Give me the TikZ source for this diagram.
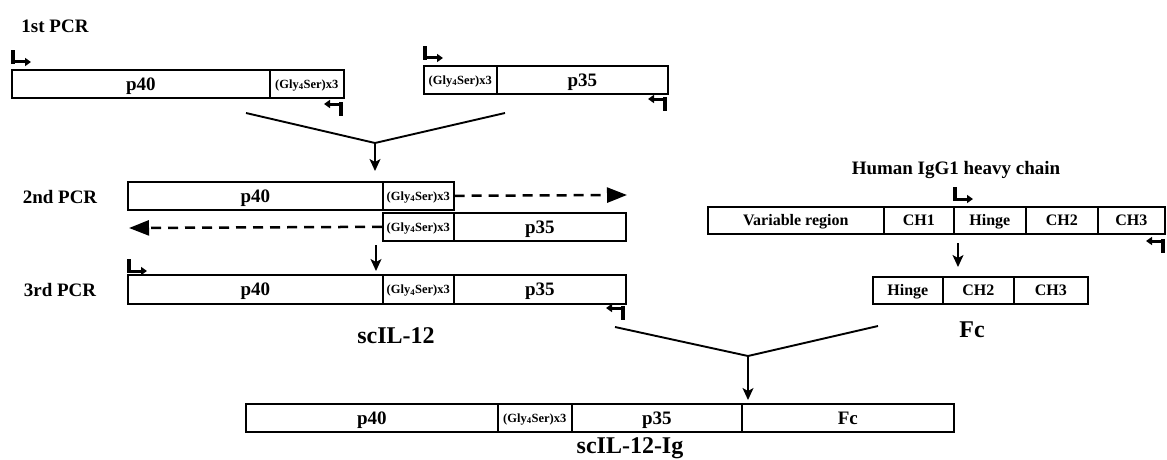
\documentclass[tikz,border=0pt]{standalone}
\usepackage{fontspec}
\setmainfont{Liberation Serif}
\usetikzlibrary{arrows.meta}
\begin{document}
\begin{tikzpicture}[x=1pt,y=-1pt,
  seg/.style={draw, line width=1.6pt, anchor=north west, inner sep=0pt, minimum height=28pt, text depth=0pt, font=\bfseries\fontsize{19}{19}\selectfont},
  gly/.style={seg, font=\bfseries\fontsize{12.5}{13}\selectfont},
  hc/.style={seg, minimum height=27pt, font=\bfseries\fontsize{16}{16}\selectfont},
  lab/.style={font=\bfseries\fontsize{19}{19}\selectfont},
  biglab/.style={font=\bfseries\fontsize{24}{24}\selectfont},
  merge/.style={line width=1.9pt},
  down/.style={line width=1.4pt, -{Stealth[length=12pt,width=11pt,inset=3pt]}},
  dasharrow/.style={line width=2.5pt, dash pattern=on 10pt off 7pt, -{Triangle[length=20pt,width=15pt]}},
  fprim/.pic={\draw[line width=4pt] (0,2) -- (0,-12);
              \draw[line width=3pt,-{Triangle[length=6pt,width=8pt]}] (-2,0) -- (18,0);},
  rprim/.pic={\draw[line width=4pt] (0,-2) -- (0,12);
              \draw[line width=3pt,-{Triangle[length=6pt,width=8pt]}] (2,0) -- (-17,0);}
]
\useasboundingbox[fill=white] (0,0) rectangle (1167,460);
\newcommand{\GS}{(Gly\textsubscript{4}Ser)x3}

% labels
\node[lab] (l1) at (55,26) {1st PCR};
\node[lab] (l2) at (60,197) {2nd PCR};
\node[lab] (l3) at (60,290) {3rd PCR};

% row 1
\node[seg, minimum width=258pt] (a40) at (11,69) {p40};
\node[gly, minimum width=74pt] (agly) at (269,69) {\GS};
\node[gly, minimum width=73pt] (bgly) at (423,65) {\GS};
\node[seg, minimum width=171pt] (b35) at (496,65) {p35};
\pic at (13,62) {fprim};
\pic at (341,104) {rprim};
\pic at (425,58) {fprim};
\pic at (665,99) {rprim};

% merge 1
\coordinate (m1l) at (246,113);
\coordinate (m1v) at (375,143);
\coordinate (m1r) at (505,113);
\draw[merge] (m1l) -- (m1v) -- (m1r);

% row 2
\node[seg, minimum width=255pt] (c40) at (127,181) {p40};
\node[gly, minimum width=71pt] (cgly) at (382,181) {\GS};
\node[gly, minimum width=71pt] (dgly) at (382,212) {\GS};
\node[seg, minimum width=172pt] (d35) at (453,212) {p35};
\draw[down, shorten >=10pt] (m1v) -- (m1v |- c40.north);
\coordinate (dr) at (627,195);
\coordinate (dl) at (129,228);
\draw[dasharrow] (cgly.east) -- (dr);
\draw[dasharrow] (dgly.west) -- (dl);

% row 3
\node[seg, minimum width=255pt, minimum height=29pt] (e40) at (127,274) {p40};
\node[gly, minimum width=71pt, minimum height=29pt] (egly) at (382,274) {\GS};
\node[seg, minimum width=172pt, minimum height=29pt] (e35) at (453,274) {p35};
\coordinate (a2s) at (376,245);
\draw[down, shorten >=3pt] (a2s) -- (a2s |- e40.north);
\pic at (129,271) {fprim};
\pic at (623,308) {rprim};
\node[biglab] (sc) at (396,336) {scIL-12};

% heavy chain
\node[lab] (hct) at (956,170) {Human IgG1 heavy chain};
\node[hc, minimum width=176pt] (hvar) at (707,206) {Variable region};
\node[hc, minimum width=70pt] (hch1) at (883,206) {CH1};
\node[hc, minimum width=72pt] (hhin) at (953,206) {Hinge};
\node[hc, minimum width=72pt] (hch2) at (1025,206) {CH2};
\node[hc, minimum width=67pt] (hch3) at (1097,206) {CH3};
\pic at (955,199) {fprim};
\pic at (1163,241) {rprim};

% Fc fragment
\node[hc, minimum width=70pt] (fhin) at (872,276) {Hinge};
\node[hc, minimum width=71pt] (fch2) at (942,276) {CH2};
\node[hc, minimum width=74pt] (fch3) at (1013,276) {CH3};
\coordinate (a3s) at (958,243);
\draw[down, shorten >=9pt] (a3s) -- (a3s |- fhin.north);
\node[biglab] (fcl) at (972,330) {Fc};

% merge 2
\coordinate (m2l) at (615,327);
\coordinate (m2v) at (748,356);
\coordinate (m2r) at (878,326);
\draw[merge] (m2l) -- (m2v) -- (m2r);

% final
\node[seg, minimum width=252pt] (g40) at (245,403) {p40};
\node[gly, minimum width=74pt] (ggly) at (497,403) {\GS};
\node[seg, minimum width=170pt] (g35) at (571,403) {p35};
\node[seg, minimum width=212pt] (gfc) at (741,403) {Fc};
\draw[down, shorten >=3pt] (m2v) -- (m2v |- gfc.north);
\node[biglab] (scig) at (630,448) {scIL-12-Ig};
\end{tikzpicture}
\end{document}
